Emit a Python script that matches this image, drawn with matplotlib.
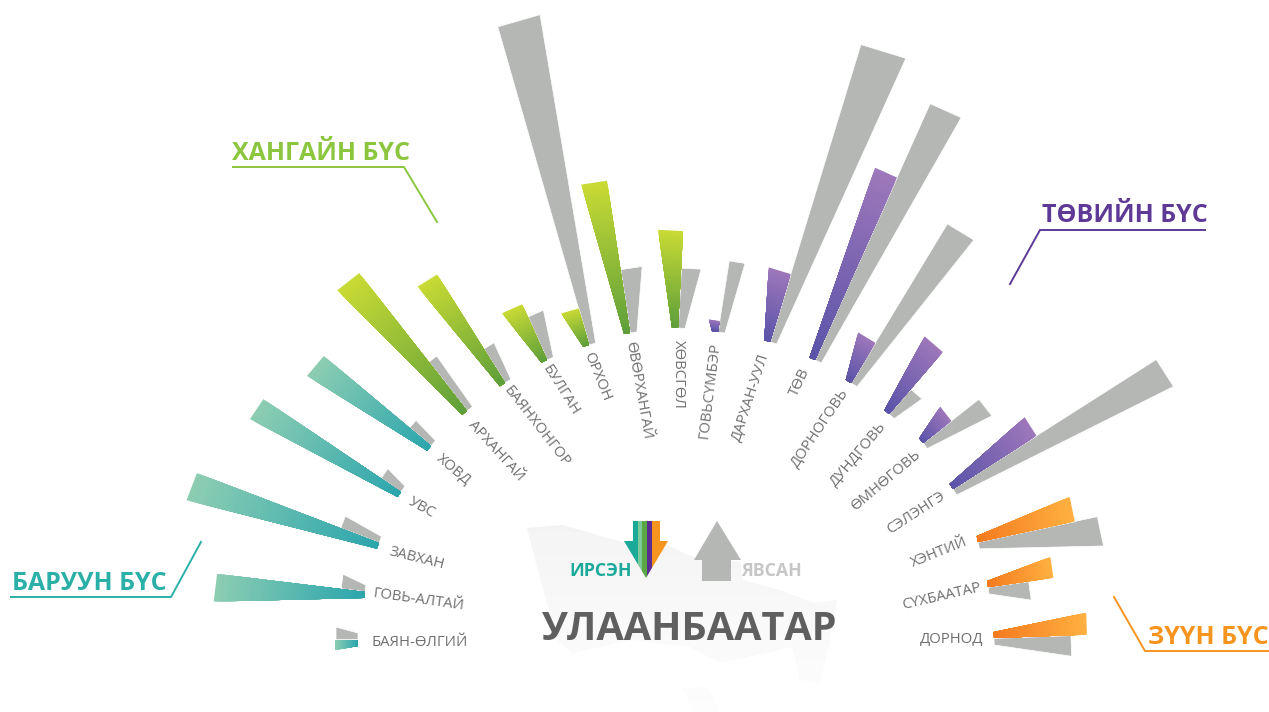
import numpy as np
import matplotlib
matplotlib.use('Agg')
import matplotlib.pyplot as plt
from matplotlib.colors import to_rgb
from matplotlib.patches import Polygon, Rectangle

plt.rcParams['font.family'] = ['Open Sans', 'Noto Sans', 'DejaVu Sans']

# data: provinces, arrivals (coloured) and departures (grey)
names = ['БАЯН-ӨЛГИЙ', 'ГОВЬ-АЛТАЙ', 'ЗАВХАН', 'УВС', 'ХОВД',
         'АРХАНГАЙ', 'БАЯНХОНГОР', 'БУЛГАН', 'ОРХОН', 'ӨВӨРХАНГАЙ', 'ХӨВСГӨЛ',
         'ГОВЬСҮМБЭР', 'ДАРХАН-УУЛ', 'ТӨВ', 'ДОРНОГОВЬ', 'ДУНДГОВЬ', 'ӨМНӨГОВЬ', 'СЭЛЭНГЭ',
         'ХЭНТИЙ', 'СҮХБААТАР', 'ДОРНОД']
zones = ['w', 'w', 'w', 'w', 'w',
         'k', 'k', 'k', 'k', 'k', 'k',
         'c', 'c', 'c', 'c', 'c', 'c', 'c',
         'e', 'e', 'e']
arrived = [23, 149, 195, 166, 140, 175, 128, 61, 38, 154, 97, 11, 71, 200, 47, 82, 36, 99, 99, 66, 93]
left = [22, 24, 41, 24, 28, 62, 40, 47, 331, 64, 60, 72, 311, 281, 186, 33, 71, 241, 122, 41, 77]

# layout of the fan
base_x = [358, 365, 379, 401, 431, 467, 505, 547, 589, 630, 678, 718, 770, 815, 851, 889, 923, 953, 978, 988, 994]
base_y = [640, 592, 543, 492, 446, 411, 383, 360, 345, 333, 328, 332, 342, 360, 383, 414, 443, 489, 542, 587, 638]
axis_deg = [180, 173, 159, 146, 140, 128, 122, 114, 106, 98.6, 87, 81, 73, 65.8, 58.8, 49, 38, 32.5, 12, 8, 2]
arrived_w = [10, 28, 29, 24, 26, 28, 23, 22, 18, 26, 25, 11, 23, 24, 20, 24, 18, 22, 25, 21, 22]
left_w = [13, 15, 13, 12, 10, 10, 12, 17, 44, 22, 20, 16, 47, 34, 31, 15, 21, 32, 30, 19, 21]

label_x = [420, 419, 417, 422, 453, 496, 537, 561, 597, 638, 678, 710, 751, 800, 820, 858, 886, 916, 939, 942, 952]
label_y = [642, 600, 558, 508, 470, 451, 427, 390, 377, 390, 374, 390, 397, 382, 428, 455, 481, 513, 553, 597, 639]
label_rot = [0, -8, -14, -29, -40, -48, -52, -58, -68, -80, -90, 83, 72, 65, 56, 50, 40, 33, 22, 13, 0]

grad = {'w': ('#2aa5ad', '#8ccdb2'), 'k': ('#5c9e3b', '#c8da34'),
        'c': ('#5953a8', '#9d77ba'), 'e': ('#f47a1f', '#ffb040')}
GREY = '#b5b7b5'


def wedge(bx, by, deg, length, tip_w, side, base_w):
    """corners of one wedge, side=+1 counter-clockwise of the axis, -1 clockwise"""
    a = np.radians(deg)
    d = np.array([np.cos(a), -np.sin(a)])  # y axis goes down
    n = side * np.array([-np.sin(a), -np.cos(a)])
    b = np.array([bx, by], dtype=float)
    return b, b + n * base_w, b + d * length + n * tip_w, b + d * length


fig = plt.figure(figsize=(12.69, 7.12), dpi=100)
ax = fig.add_axes([0, 0, 1, 1])
ax.set_xlim(0, 1269)
ax.set_ylim(712, 0)
ax.autoscale(False)
ax.axis('off')

# pale map of the city behind everything, fading downwards
map_main = [(527, 528), (563, 525), (597, 535), (622, 542), (667, 545), (693, 557), (740, 562), (743, 580),
            (780, 590), (813, 603), (837, 600), (830, 640), (820, 683), (800, 680), (793, 647), (720, 663),
            (690, 647), (630, 640), (573, 653), (557, 640), (537, 567)]
map_low = [(683, 688), (707, 687), (720, 712), (693, 712)]
shade = np.linspace(0.955, 0.99, 64).reshape(-1, 1)
for outline in (map_main, map_low):
    edge = Polygon(outline, closed=True, fc='none', ec='none', zorder=0)
    ax.add_patch(edge)
    im = ax.imshow(shade, cmap='gray', vmin=0, vmax=1, extent=(500, 860, 712, 520), aspect='auto',
                   interpolation='bilinear', zorder=0)
    im.set_clip_path(edge)

for i in range(len(names)):
    # grey first, the coloured wedge sits on top of it
    p = wedge(base_x[i], base_y[i], axis_deg[i], left[i], left_w[i], -1, 7)
    ax.add_patch(Polygon(np.array(p), closed=True, fc=GREY, ec='white', lw=0.5, zorder=2))

    b0, b1, t1, t0 = wedge(base_x[i], base_y[i], axis_deg[i], arrived[i], arrived_w[i], 1, 6)
    c0 = np.array(to_rgb(grad[zones[i]][0]))
    c1 = np.array(to_rgb(grad[zones[i]][1]))
    ax.add_patch(Polygon(np.array([b0, b1, t1, t0]), closed=True, fc='none', ec='white', lw=1.0, zorder=3))
    # painted from the tip back to the base so no seams show between the shades
    for f in np.linspace(1, 0.02, 50):
        col = c0 + (c1 - c0) * f
        shape = [b0, b1, b1 + (t1 - b1) * f, b0 + (t0 - b0) * f]
        ax.add_patch(Polygon(np.array(shape), closed=True, fc=col, ec='none', zorder=4))

    ax.text(label_x[i], label_y[i], names[i], fontsize=10.7, color='#707070', rotation=label_rot[i],
            ha='center', va='center', rotation_mode='anchor', zorder=5)

# zone titles with their leader lines
ax.text(89, 584, 'БАРУУН БҮС', color='#2bb0a8', fontsize=18, fontweight='bold', ha='center', va='center')
ax.plot([11, 171, 201], [597, 597, 542], color='#2bb0a8', lw=1.4)
ax.text(321, 153, 'ХАНГАЙН БҮС', color='#8cc63f', fontsize=18, fontweight='bold', ha='center', va='center')
ax.plot([233, 404, 437], [167, 167, 222], color='#8cc63f', lw=1.4)
ax.text(1125, 215, 'ТӨВИЙН БҮС', color='#5e3a96', fontsize=18, fontweight='bold', ha='center', va='center')
ax.plot([1205, 1040, 1010], [230, 230, 284], color='#5e3a96', lw=1.4)
ax.text(1208, 637, 'ЗҮҮН БҮС', color='#f7941e', fontsize=18, fontweight='bold', ha='center', va='center')
ax.plot([1269, 1145, 1114], [651, 651, 597], color='#f7941e', lw=1.4)

# legend arrows
arrow_in = [(633, 521), (660, 521), (660, 541), (668, 541), (646, 578), (624, 541), (633, 541)]
clip = Polygon(arrow_in, closed=True, fc='none', ec='none', zorder=6)
ax.add_patch(clip)
stripe_x = [620, 638, 642, 647, 652, 670]
stripe_c = ['#1ba99a', '#7cc99a', '#5aa845', '#5b2d91', '#f7941e']
for j in range(len(stripe_c)):
    r = Rectangle((stripe_x[j], 515), stripe_x[j + 1] - stripe_x[j], 70, fc=stripe_c[j], ec='none', zorder=6)
    ax.add_patch(r)
    r.set_clip_path(clip)
arrow_out = [(717, 521), (741, 560), (731, 560), (731, 581), (702, 581), (702, 560), (694, 560)]
ax.add_patch(Polygon(arrow_out, closed=True, fc=GREY, ec='none', zorder=6))

ax.text(601, 571, 'ИРСЭН', color='#1ba99a', fontsize=12.8, fontweight='bold', ha='center', va='center', zorder=7)
ax.text(772, 571, 'ЯВСАН', color='#c6c6c6', fontsize=12.8, fontweight='bold', ha='center', va='center', zorder=7)
ax.text(690, 630, 'УЛААНБААТАР', color='#5f5f5f', fontsize=28.5, fontweight='bold', ha='center', va='center', zorder=7)

plt.savefig('out.png', dpi=100)
